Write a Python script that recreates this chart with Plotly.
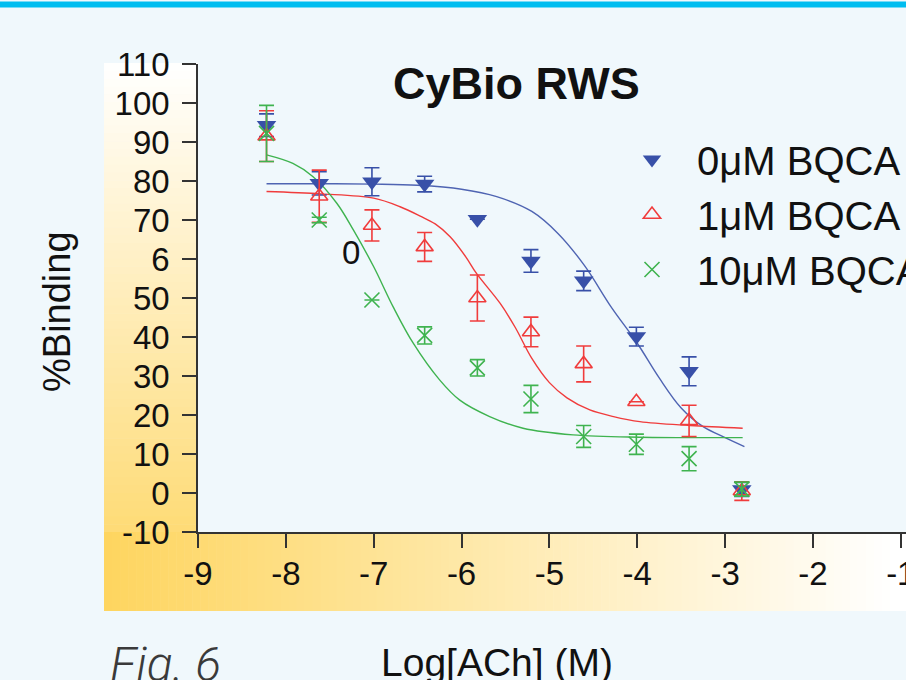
import plotly.graph_objects as go

# ---------------- data ----------------
log_ach = [-8.22, -7.62, -7.02, -6.42, -5.82, -5.21, -4.61, -4.01, -3.41, -2.81]

bqca0 = [94.3, 79.4, 79.8, 79.2, 70.2, 59.5, 54.4, 40.1, 31.2, 0.9]
bqca0_err = [2.9, 3.0, 3.6, 2.0, 0.0, 2.9, 2.5, 2.4, 3.7, 1.8]

bqca1 = [91.5, 76.1, 68.6, 63.1, 50.0, 41.3, 33.1, 23.4, 18.5, 0.5]
bqca1_err = [6.5, 6.7, 4.0, 3.7, 5.9, 3.8, 4.6, 0.0, 4.0, 2.4]

bqca10 = [92.2, 70.0, 49.5, 40.4, 32.1, 24.1, 14.5, 12.5, 8.8, 1.0]
bqca10_err = [7.2, 0.7, 0.0, 2.2, 2.1, 3.5, 2.8, 2.6, 3.1, 1.8]

# fitted curves, points
fit0_x = [-8.22, -7.6, -7.0, -6.5, -6.0, -5.6, -5.2, -4.9, -4.6, -4.3, -4.0, -3.75, -3.5, -3.25, -3.0, -2.78]
fit0_y = [79.3, 79.3, 79.2, 78.9, 77.9, 76.0, 72.2, 66.5, 58.3, 47.8, 38.4, 29.5, 21.8, 17.0, 14.2, 11.9]

fit1_x = [-8.22, -7.6, -7.0, -6.7, -6.47, -6.3, -6.13, -5.95, -5.83, -5.56, -5.39, -5.2, -5.0, -4.8, -4.54, -4.27, -3.97, -3.4, -2.8]
fit1_y = [77.3, 76.7, 75.6, 73.4, 71.0, 69.0, 65.7, 60.5, 56.3, 48.6, 42.5, 34.5, 28.3, 24.4, 21.3, 19.6, 18.3, 17.3, 16.6]

fit10_x = [-8.22, -7.92, -7.69, -7.42, -7.23, -7.0, -6.78, -6.55, -6.25, -6.02, -5.68, -5.3, -4.73, -3.97, -2.8]
fit10_y = [86.7, 84.5, 81.1, 74.3, 67.4, 58.0, 47.8, 38.4, 29.0, 23.8, 19.6, 16.6, 14.9, 14.3, 14.2]

series_names = ["0μM BQCA", "1μM BQCA", "10μM BQCA"]
x_ticks = [-9, -8, -7, -6, -5, -4, -3, -2, -1]
x_ticktext = ["-9", "-8", "-7", "-6", "-5", "-4", "-3", "-2", "-1"]
y_ticks = [110, 100, 90, 80, 70, 60, 50, 40, 30, 20, 10, 0, -10]
y_ticktext = ["110", "100", "90", "80", "70", "6", "50", "40", "30", "20", "10", "0", "-10"]

# ---------------- styling ----------------
W, H = 906, 680
L, R, T, B = 198, 0, 64, 148
PW, PH = W - L - R, H - T - B

BLUE, BLUE_LINE = "#3850a8", "#4f64b2"
RED = "#f03c3c"
GREEN = "#3fb34f"
BG = "#f0f8fc"
FONT = "Liberation Sans, Arial, sans-serif"


def px_x(p):
    return (p - L) / PW


def px_y(p):
    return (H - B - p) / PH


def grad(t):
    t = max(0.0, min(1.0, t))
    c0 = (254, 213, 95)
    c1 = (255, 255, 255)
    return "rgb(%d,%d,%d)" % tuple(round(a + (b - a) * t) for a, b in zip(c0, c1))


shapes = []
# left vertical gradient strip
n = 60
y_top, y_bot = 63, 532
for i in range(n):
    a = y_top + (y_bot - y_top) * i / n
    b = y_top + (y_bot - y_top) * (i + 1) / n
    t = (611 - (a + b) / 2) / 548
    shapes.append(dict(type="rect", xref="paper", yref="paper",
                       x0=px_x(104), x1=px_x(198), y0=px_y(b + 0.6), y1=px_y(a),
                       fillcolor=grad(t), line=dict(width=0), layer="below"))
# bottom horizontal gradient strip
n = 100
x_l, x_r = 104, 906
for i in range(n):
    a = x_l + (x_r - x_l) * i / n
    b = x_l + (x_r - x_l) * (i + 1) / n
    t = ((a + b) / 2 - 104) / 790
    shapes.append(dict(type="rect", xref="paper", yref="paper",
                       x0=px_x(a), x1=px_x(b + 0.6), y0=px_y(611), y1=px_y(532),
                       fillcolor=grad(t), line=dict(width=0), layer="below"))
# top cyan rule
shapes.append(dict(type="rect", xref="paper", yref="paper",
                   x0=px_x(-2), x1=px_x(910), y0=px_y(7.5), y1=px_y(1.5),
                   fillcolor="#00bdf0", line=dict(width=0), layer="below"))

fig = go.Figure()

# fitted curves
fig.add_trace(go.Scatter(x=fit0_x, y=fit0_y, mode="lines", line=dict(color=BLUE_LINE, width=1.4, shape="spline"),
                         showlegend=False, hoverinfo="skip"))
fig.add_trace(go.Scatter(x=fit1_x, y=fit1_y, mode="lines", line=dict(color=RED, width=1.4, shape="spline"),
                         showlegend=False, hoverinfo="skip"))
fig.add_trace(go.Scatter(x=fit10_x, y=fit10_y, mode="lines", line=dict(color=GREEN, width=1.4, shape="spline"),
                         showlegend=False, hoverinfo="skip"))

# data points
fig.add_trace(go.Scatter(
    x=log_ach, y=bqca0, mode="markers", name=series_names[0],
    marker=dict(symbol="triangle-down", size=17, color=BLUE, line=dict(width=0)),
    error_y=dict(type="data", array=bqca0_err, visible=True, color=BLUE, thickness=1.6, width=7.5)))
fig.add_trace(go.Scatter(
    x=log_ach, y=bqca1, mode="markers", name=series_names[1],
    marker=dict(symbol="triangle-up-open", size=15, color=RED, line=dict(width=1.6, color=RED)),
    error_y=dict(type="data", array=bqca1_err, visible=True, color=RED, thickness=1.6, width=7.5)))
fig.add_trace(go.Scatter(
    x=log_ach, y=bqca10, mode="markers", name=series_names[2],
    marker=dict(symbol="x-thin-open", size=15, color=GREEN, line=dict(width=1.6, color=GREEN)),
    error_y=dict(type="data", array=bqca10_err, visible=True, color=GREEN, thickness=1.6, width=7.5)))

annotations = [
    dict(text="<b>CyBio RWS</b>", xref="paper", yref="paper", x=px_x(516.5), y=px_y(84),
         xanchor="center", yanchor="middle", showarrow=False, font=dict(family=FONT, size=45, color="#111")),
    dict(text="%Binding", xref="paper", yref="paper", x=px_x(57), y=px_y(312), textangle=-90,
         xanchor="center", yanchor="middle", showarrow=False, font=dict(family=FONT, size=38, color="#111")),
    dict(text="Log[ACh] (M)", xref="paper", yref="paper", x=px_x(497), y=px_y(662),
         xanchor="center", yanchor="middle", showarrow=False, font=dict(family=FONT, size=39, color="#111")),
    dict(text="<i>Fig. 6</i>", xref="paper", yref="paper", x=px_x(108), y=px_y(664),
         xanchor="left", yanchor="middle", showarrow=False,
         font=dict(family="Roboto, Liberation Sans, sans-serif", size=48, color="#3a3a3a", weight=300)),
    dict(text="0", xref="paper", yref="paper", x=px_x(350.5), y=px_y(252),
         xanchor="center", yanchor="middle", showarrow=False, font=dict(family=FONT, size=33, color="#111")),
]

fig.update_layout(
    width=W, height=H, autosize=False,
    margin=dict(l=L, r=R, t=T, b=B, pad=0, autoexpand=False),
    paper_bgcolor=BG, plot_bgcolor=BG,
    shapes=shapes, annotations=annotations,
    font=dict(family=FONT, color="#111"),
    legend=dict(x=px_x(607), y=px_y(127), xanchor="left", yanchor="top",
                bgcolor="rgba(0,0,0,0)", borderwidth=0, itemwidth=80,
                font=dict(family=FONT, size=40, color="#111"), tracegroupgap=0),
    xaxis=dict(range=[-9, -9 + PW / 87.85], tickmode="array", tickvals=x_ticks, ticktext=x_ticktext,
               ticks="outside", ticklen=14, tickwidth=1.5, tickcolor="#333",
               showline=True, linecolor="#333", linewidth=1.6, showgrid=False, zeroline=False,
               ticklabeloverflow="allow",
               tickfont=dict(family=FONT, size=33, color="#111"), ticklabelstandoff=-2),
    yaxis=dict(range=[-10, 110], tickmode="array", tickvals=y_ticks, ticktext=y_ticktext,
               ticks="outside", ticklen=14, tickwidth=1.5, tickcolor="#333",
               showline=True, linecolor="#333", linewidth=1.6, showgrid=False, zeroline=False,
               tickfont=dict(family=FONT, size=33, color="#111"), ticklabelstandoff=6),
)

fig.write_html(
    "out.html",
    config={"responsive": False, "displayModeBar": False},
    post_script="document.body.style.margin='0px';",
)
